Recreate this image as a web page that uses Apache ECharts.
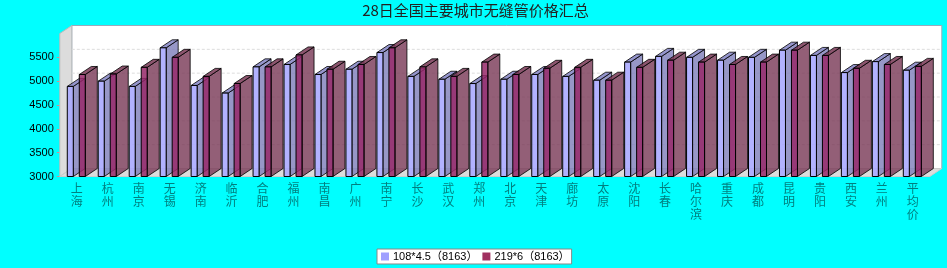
<!DOCTYPE html>
<html><head><meta charset="utf-8">
<style>html,body{margin:0;padding:0;background:#00ffff}#c{width:947px;height:268px}</style>
<script src="https://cdn.jsdelivr.net/npm/echarts@6/dist/echarts.min.js"></script></head>
<body><div id="c"></div>
<script>
const categories = ['上海','杭州','南京','无锡','济南','临沂','合肥','福州','南昌','广州','南宁','长沙','武汉','郑州','北京','天津','廊坊','太原','沈阳','长春','哈尔滨','重庆','成都','昆明','贵阳','西安','兰州','平均价'];
const pipe108 = [4890,5000,4890,5700,4910,4750,5300,5350,5140,5250,5600,5100,5040,4950,5040,5140,5100,5020,5400,5520,5500,5440,5500,5650,5540,5180,5410,5230];
const pipe219 = [5140,5150,5290,5500,5100,4950,5300,5550,5250,5350,5700,5300,5100,5400,5140,5270,5290,5020,5290,5440,5400,5350,5400,5650,5540,5270,5350,5310];
const yTicks = [3000,3500,4000,4500,5000,5500];
const seriesNames = ['108*4.5（8163）','219*6（8163）'];
const title = '28日全国主要城市无缝管价格汇总';

const DX = 12, DY = -8, W = 6;
function bar3d(offset, front, side, top) {
  return function (params, api) {
    const p = api.coord([api.value(0), api.value(1)]);
    const b = api.coord([api.value(0), 3000]);
    const x = p[0] + offset, y = p[1], y0 = b[1];
    const ln = {stroke:'#000', lineWidth:1, lineJoin:'miter'};
    const soft = {stroke:'rgba(0,0,0,0.8)', lineWidth:1};
    return {type:'group', children:[
      {type:'polygon', shape:{points:[[x+W,y],[x+W+DX,y+DY],[x+W+DX,y0+DY],[x+W,y0]]}, style:Object.assign({fill:side},soft)},
      {type:'polygon', shape:{points:[[x,y],[x+DX,y+DY],[x+W+DX,y+DY],[x+W,y]]}, style:Object.assign({fill:top},soft)},
      {type:'rect', shape:{x:x,y:y,width:W,height:y0-y}, style:Object.assign({fill:front},ln)}
    ]};
  };
}
const chart = echarts.init(document.getElementById('c'), null, {renderer:'canvas'});
chart.setOption({
  animation:false,
  backgroundColor:'#00ffff',
  title:{text:title,left:470.5,top:-2,textAlign:'center',textStyle:{fontFamily:'Noto Sans CJK SC',fontSize:15,fontWeight:'normal',color:'#222'}},
  legend:{left:377,top:249,orient:'horizontal',icon:'rect',itemWidth:8,itemHeight:8,itemGap:5,padding:[2,2,2,4],
    backgroundColor:'#fff',borderColor:'#888',borderWidth:1,
    textStyle:{fontFamily:'Liberation Sans, Noto Sans CJK SC',fontSize:11,color:'#000',padding:[0,0,0,-1]},
    data:seriesNames},
  grid:{left:59.8,top:33.5,width:867,height:143},
  xAxis:{type:'category',data:categories,boundaryGap:true,
    axisLine:{show:true,lineStyle:{color:'#999'}},axisTick:{show:false},
    axisLabel:{interval:0,margin:5,fontFamily:'Noto Sans CJK SC',fontSize:12,lineHeight:13,color:'#007f7f',padding:[0,0,0,3],
      formatter:v=>v.split('').join('\n')}},
  yAxis:{type:'value',min:3000,max:6000,interval:500,
    axisLine:{show:true,lineStyle:{color:'#bbb'}},
    axisTick:{show:true,length:3,lineStyle:{color:'#d09090'},customValues:yTicks},
    splitLine:{show:false},
    axisLabel:{margin:6,fontFamily:'Liberation Sans',fontSize:11,color:'#000',customValues:yTicks,formatter:v=>String(v)}},
  series:[
    {type:'custom',name:'frame',silent:true,clip:false,z:1,coordinateSystem:'cartesian2d',data:[[0,3000]],
      renderItem:function(params,api){
        const c=params.coordSys, l=c.x, t=c.y, r=c.x+c.width+3, b=c.y+c.height;
        return {type:'group',children:[
          {type:'rect',shape:{x:l+DX,y:t+DY,width:r-l,height:c.height},style:{fill:'#fff',stroke:'#9ab',lineWidth:1}},
          {type:'polygon',shape:{points:[[l,t],[l+DX,t+DY],[l+DX,b+DY],[l,b]]},style:{fill:'#dcdcdc',stroke:'#bbb',lineWidth:1}},
          {type:'polygon',shape:{points:[[l,b],[l+DX,b+DY],[r+DX,b+DY],[r,b]]},style:{fill:'#dcdcdc',stroke:'#ccc',lineWidth:1}}
        ]};
      }},
    {type:'custom',name:'grid',silent:true,clip:false,z:2,coordinateSystem:'cartesian2d',data:yTicks.slice(1).map(v=>[0,v]),
      renderItem:function(params,api){
        const c=params.coordSys, y=api.coord([0,api.value(1)])[1]+DY;
        return {type:'line',shape:{x1:c.x+DX,y1:y,x2:c.x+c.width+3+DX,y2:y},style:{stroke:'#ddd',lineWidth:1,lineDash:[3,2]}};
      }},
    {type:'custom',name:seriesNames[0],clip:false,z:3,coordinateSystem:'cartesian2d',
      itemStyle:{color:'#a0a0ff'},encode:{x:0,y:1},
      data:categories.map((c,i)=>[i,pipe108[i]]),
      renderItem:bar3d(-8,'rgba(170,170,255,0.9)','rgba(125,125,185,0.8)','rgba(130,130,195,0.85)')},
    {type:'custom',name:seriesNames[1],clip:false,z:4,coordinateSystem:'cartesian2d',
      itemStyle:{color:'#a03060'},encode:{x:0,y:1},
      data:categories.map((c,i)=>[i,pipe219[i]]),
      renderItem:bar3d(4,'rgba(150,40,105,0.85)','rgba(120,55,85,0.8)','rgba(120,55,85,0.85)')}
  ]
});
</script></body></html>
